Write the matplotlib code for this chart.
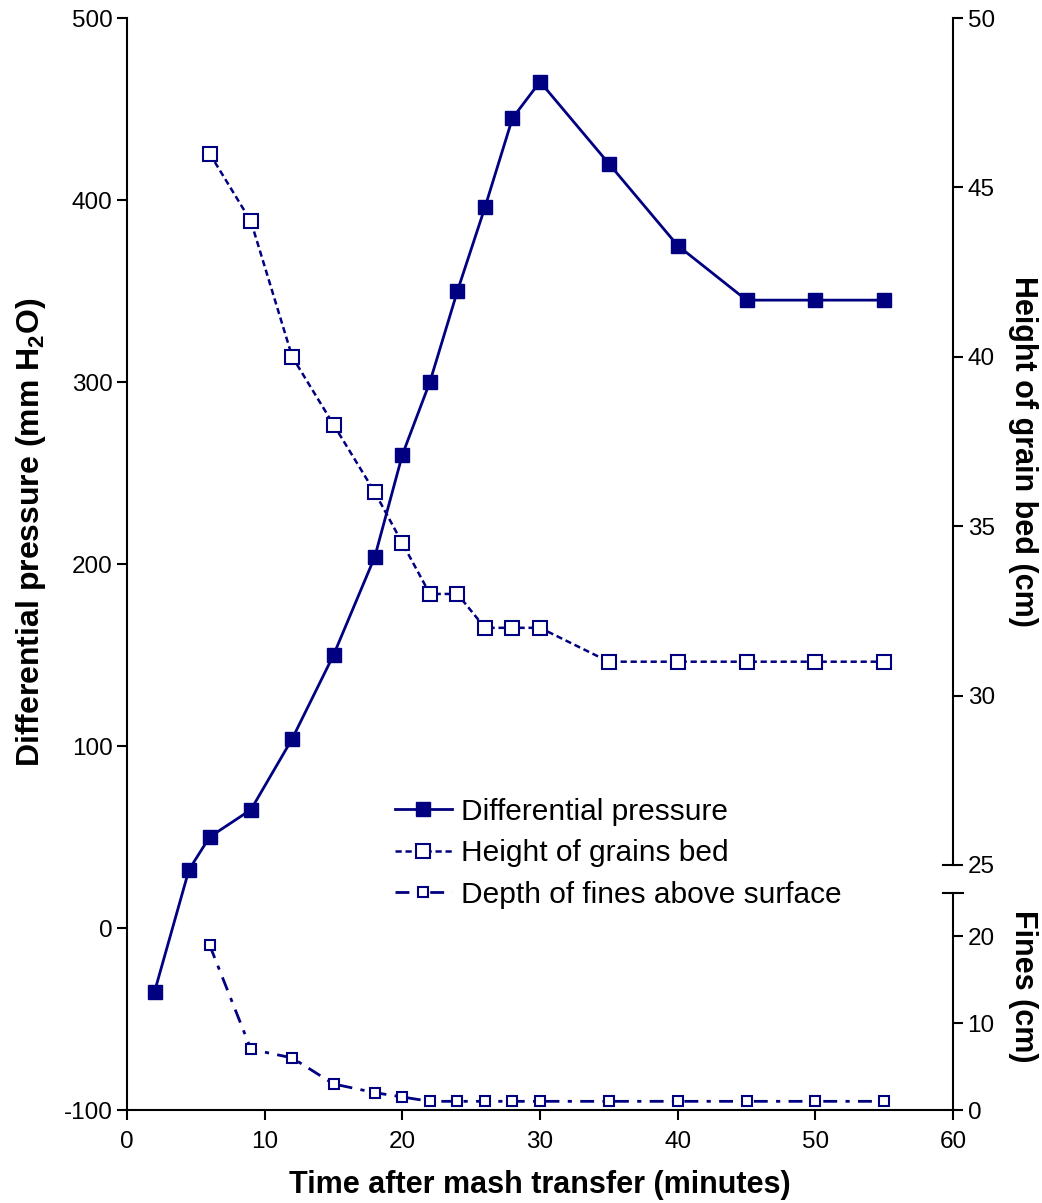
import matplotlib
matplotlib.use("Agg")
import matplotlib.pyplot as plt
from matplotlib.lines import Line2D

plt.rcParams['font.family'] = ['Liberation Sans', 'DejaVu Sans']
plt.rcParams['axes.unicode_minus'] = False

# time (minutes) and the three series
t_pressure = [2, 4.5, 6, 9, 12, 15, 18, 20, 22, 24, 26, 28, 30, 35, 40, 45, 50, 55]
pressure = [-35, 32, 50, 65, 104, 150, 204, 260, 300, 350, 396, 445, 465, 420, 375, 345, 345, 345]

t_bed = [6, 9, 12, 15, 18, 20, 22, 24, 26, 28, 30, 35, 40, 45, 50, 55]
bed_height = [46, 44, 40, 38, 36, 34.5, 33, 33, 32, 32, 32, 31, 31, 31, 31, 31]

t_fines = [6, 9, 12, 15, 18, 20, 22, 24, 26, 28, 30, 35, 40, 45, 50, 55]
fines = [19, 7, 6, 3, 2, 1.5, 1, 1, 1, 1, 1, 1, 1, 1, 1, 1]

series_names = ['Differential pressure', 'Height of grains bed', 'Depth of fines above surface']

navy = '#000080'
tick_fs = 17.5
label_fs = 22

fig = plt.figure(figsize=(10.42, 12.03), dpi=100)

# main axis: differential pressure
ax = fig.add_axes([0.1219, 0.0773, 0.7927, 0.9077])
ax.set_xlim(0, 60)
ax.set_ylim(-100, 500)
ax.set_xticks(range(0, 61, 10))
ax.set_yticks(range(-100, 501, 100))
ax.spines['top'].set_visible(False)
ax.spines['right'].set_visible(False)
ax.spines['left'].set_linewidth(1.5)
ax.spines['bottom'].set_linewidth(1.5)
ax.tick_params(axis='both', direction='out', length=7, width=1.5, labelsize=tick_fs)
ax.tick_params(axis='x', pad=8)
ax.set_xlabel('Time after mash transfer (minutes)', fontsize=label_fs, fontweight='bold', va='center')
ax.xaxis.set_label_coords(0.5, -0.0686)
ax.set_ylabel('Differential pressure (mm H$_\\mathregular{2}$O)', fontsize=23, fontweight='bold', va='center')
ax.yaxis.set_label_coords(-0.116, 0.529)

# upper right axis: grain bed height
ax2 = fig.add_axes([0.1219, 0.281, 0.7927, 0.704])
ax2.patch.set_visible(False)
ax2.set_xlim(0, 60)
ax2.set_ylim(25, 50)
ax2.set_yticks(range(25, 51, 5))
for s in ['top', 'left', 'bottom']:
    ax2.spines[s].set_visible(False)
ax2.spines['right'].set_linewidth(1.5)
ax2.xaxis.set_visible(False)
ax2.yaxis.tick_right()
ax2.yaxis.set_label_position('right')
ax2.tick_params(axis='y', direction='out', length=7, width=1.5, labelsize=tick_fs)
ax2.set_ylabel('Height of grain bed (cm)', fontsize=label_fs, fontweight='bold', rotation=270, va='center')
ax2.yaxis.set_label_coords(1.085, 0.488)
ax2.add_line(Line2D([0.988, 1.0], [0.0, 0.0], transform=ax2.transAxes,
                    color='black', lw=1.5, clip_on=False))

# lower right axis: fines
ax3 = fig.add_axes([0.1219, 0.0773, 0.7927, 0.1804])
ax3.patch.set_visible(False)
ax3.set_xlim(0, 60)
ax3.set_ylim(0, 25)
ax3.set_yticks([0, 10, 20])
for s in ['top', 'left', 'bottom']:
    ax3.spines[s].set_visible(False)
ax3.spines['right'].set_linewidth(1.5)
ax3.xaxis.set_visible(False)
ax3.yaxis.tick_right()
ax3.yaxis.set_label_position('right')
ax3.tick_params(axis='y', direction='out', length=7, width=1.5, labelsize=tick_fs)
ax3.set_ylabel('Fines (cm)', fontsize=label_fs, fontweight='bold', rotation=270, va='center')
ax3.yaxis.set_label_coords(1.085, 0.57)
ax3.add_line(Line2D([0.988, 1.012], [1.0, 1.0], transform=ax3.transAxes,
                    color='black', lw=1.5, clip_on=False))

ax.set_zorder(3)
ax.patch.set_visible(False)

l1, = ax.plot(t_pressure, pressure, color=navy, lw=2, marker='s', ms=10,
              markerfacecolor=navy, markeredgecolor=navy, clip_on=False)
l2, = ax2.plot(t_bed, bed_height, color=navy, lw=1.8, marker='s', ms=10,
               markerfacecolor='white', markeredgecolor=navy, markeredgewidth=1.5,
               dashes=(2.5, 1.5), clip_on=False)
l3, = ax3.plot(t_fines, fines, color=navy, lw=2, marker='s', ms=7,
               markerfacecolor='white', markeredgecolor=navy, markeredgewidth=1.5,
               dashes=(5, 3, 1.5, 3), clip_on=False)

leg = ax.legend([l1, l2, l3], series_names,
                loc='upper left', bbox_to_anchor=(0.3245, 0.286), frameon=False,
                borderpad=0, borderaxespad=0,
                fontsize=21.5, handlelength=1.9, handletextpad=0.3, labelspacing=0.45)
leg.set_zorder(10)

fig.savefig('out.png', dpi=100)
